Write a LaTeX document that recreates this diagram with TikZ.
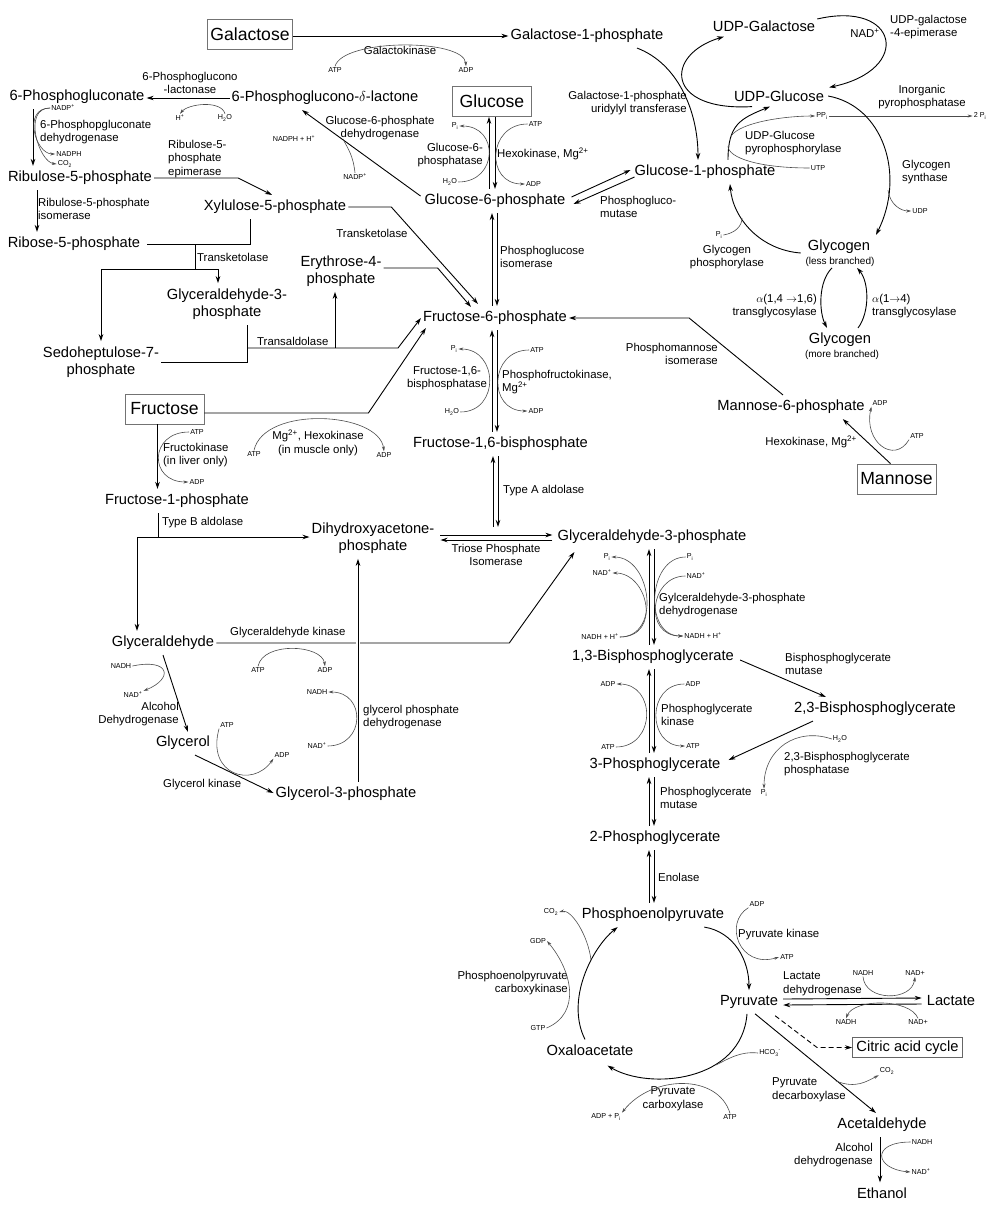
\documentclass[tikz,border=0pt]{standalone}
\usepackage{fontspec}
\setmainfont{Liberation Sans}
\usepackage{tikz}
\usetikzlibrary{arrows.meta, calc}
\newcommand\metsize{\fontsize{14.7}{17.5}\selectfont}
\newcommand\boxsize{\fontsize{17.6}{20}\selectfont}
\newcommand\enzsize{\fontsize{11.4}{13.6}\selectfont}
\newcommand\cofsize{\fontsize{7.2}{8}\selectfont}
\newcommand\subsize{\fontsize{10}{12}\selectfont}
\newcommand\Pinorg{P\textsubscript{i}}
\newcommand\Mgion{Mg\textsuperscript{2+}}
\tikzset{
  metab/.style={font=\metsize, inner xsep=2pt, inner ysep=5pt, align=center},
  source/.style={draw=black!55, line width=0.8pt, font=\boxsize,
    minimum width=79pt, minimum height=30pt, inner sep=3pt},
  cycbox/.style={draw=black!60, line width=0.8pt, font=\metsize,
    inner xsep=4pt, inner ysep=3pt},
  enzyme/.style={font=\enzsize, inner sep=0pt},
  cofactor/.style={font=\cofsize, inner sep=1pt},
  branch/.style={font=\subsize, inner sep=1pt},
  rxn/.style={draw=black, line width=0.9pt, -{Stealth[length=7pt, width=4.5pt]}},
  rxnL/.style={draw=black, line width=0.9pt},
  rxnD/.style={rxn, dash pattern=on 5pt off 3pt},
  side/.style={draw=black!70, line width=0.6pt, -{Stealth[length=5pt, width=3pt]}},
  sideL/.style={draw=black!70, line width=0.6pt},
}
\begin{document}
\begin{tikzpicture}[x=1pt, y=-1pt]
\useasboundingbox (0,0) rectangle (1000,1213);

\node[source] (gal) at (250,34) {Galactose};
\node[source] (glc) at (492,101.5) {Glucose};
\node[source] (fru) at (164.5,409) {Fructose};
\node[source] (man) at (896.5,479) {Mannose};
\node[cycbox] (tca) at (907.5,1047.5) {Citric acid cycle};

\node[metab] (gal1p) at (587,36) {Galactose-1-phosphate};
\node[metab] (pgl) at (325,98) {6-Phosphoglucono-$\delta$-lactone};
\node[metab] (pgn) at (77,97) {6-Phosphogluconate};
\node[metab] (g6p) at (495,201) {Glucose-6-phosphate};
\node[metab] (g1p) at (705,172) {Glucose-1-phosphate};
\node[metab] (udpgal) at (764,26) {UDP-Galactose};
\node[metab] (udpglc) at (779,96) {UDP-Glucose};
\node[metab] (glyA) at (839,247) {Glycogen};
\node[branch] (glyAsub) at (840,262) {(less branched)};
\node[metab] (glyB) at (840,340) {Glycogen};
\node[branch] (glyBsub) at (842,355) {(more branched)};
\node[metab] (ru5p) at (80,178) {Ribulose-5-phosphate};
\node[metab] (r5p) at (74,244) {Ribose-5-phosphate};
\node[metab] (xu5p) at (275,207) {Xylulose-5-phosphate};
\node[metab] (ga3pB) at (227,304) {Glyceraldehyde-3-\\phosphate};
\node[metab] (s7p) at (101,362) {Sedoheptulose-7-\\phosphate};
\node[metab] (e4p) at (341,271) {Erythrose-4-\\phosphate};
\node[metab] (f6p) at (495,318) {Fructose-6-phosphate};
\node[metab] (f16bp) at (500.5,444) {Fructose-1,6-bisphosphate};
\node[metab] (m6p) at (791,407) {Mannose-6-phosphate};
\node[metab] (f1p) at (177,501) {Fructose-1-phosphate};
\node[metab] (dhap) at (373,538) {Dihydroxyacetone-\\phosphate};
\node[metab] (ga3p) at (652,537) {Glyceraldehyde-3-phosphate};
\node[metab] (glyald) at (163,643) {Glyceraldehyde};
\node[metab] (glyc) at (183,743) {Glycerol};
\node[metab] (g3p) at (346,794) {Glycerol-3-phosphate};
\node[metab] (bpg13) at (653,657) {1,3-Bisphosphoglycerate};
\node[metab] (bpg23) at (875,709) {2,3-Bisphosphoglycerate};
\node[metab] (pg3) at (655,765) {3-Phosphoglycerate};
\node[metab] (pg2) at (655,838) {2-Phosphoglycerate};
\node[metab] (pep) at (653,915) {Phosphoenolpyruvate};
\node[metab] (pyr) at (749,1002) {Pyruvate};
\node[metab] (lac) at (951,1001) {Lactate};
\node[metab] (oaa) at (590,1050) {Oxaloacetate};
\node[metab] (acald) at (882,1125) {Acetaldehyde};
\node[metab] (etoh) at (882,1193) {Ethanol};

\node[enzyme] (eGalk) at (400,50) {Galactokinase};
\node[enzyme, anchor=east, align=right] (eGalt) at (687,103) {Galactose-1-phosphate\\uridylyl transferase};
\node[enzyme, anchor=west, align=left] (eEpi) at (890,27) {UDP-galactose\\-4-epimerase};
\node[enzyme] (nadEpi) at (865,33) {NAD\textsuperscript{+}};
\node[enzyme, align=center] (ePPase) at (922,97) {Inorganic\\pyrophosphatase};
\node[enzyme, anchor=west, align=left] (eUgp) at (745,143) {UDP-Glucose\\pyrophosphorylase};
\node[enzyme, anchor=west, align=left] (eGs) at (902,172) {Glycogen\\synthase};
\node[enzyme, align=center] (eGp) at (727,257) {Glycogen\\phosphorylase};
\node[enzyme, anchor=east, align=right] (eTgL) at (817,306) {$\alpha$(1,4 $\rightarrow$1,6)\\transglycosylase};
\node[enzyme, anchor=west, align=left] (eTgR) at (872,306) {$\alpha$(1$\rightarrow$4)\\transglycosylase};
\node[enzyme, align=center] (eLact) at (190,83) {6-Phosphoglucono\\-lactonase};
\node[enzyme, align=center] (eG6pd) at (380,128) {Glucose-6-phosphate\\dehydrogenase};
\node[enzyme, anchor=east, align=right] (eG6pase) at (483,155) {Glucose-6-\\phosphatase};
\node[enzyme, anchor=west] (eHk) at (497,154) {Hexokinase, \Mgion};
\node[enzyme, anchor=west, align=left] (ePgm) at (600,207) {Phosphogluco-\\mutase};
\node[enzyme, anchor=west, align=left] (e6pgd) at (40,132) {6-Phosphopgluconate\\dehydrogenase};
\node[enzyme, anchor=west, align=left] (eRpi) at (38,209) {Ribulose-5-phosphate\\isomerase};
\node[enzyme, anchor=west, align=left] (eRpe) at (168,159) {Ribulose-5-\\phosphate\\epimerase};
\node[enzyme, anchor=west] (eTk1) at (197,257) {Transketolase};
\node[enzyme] (eTk2) at (372,233) {Transketolase};
\node[enzyme, anchor=west] (eTa) at (257,341) {Transaldolase};
\node[enzyme, anchor=west, align=left] (ePgi) at (500,257) {Phosphoglucose\\isomerase};
\node[enzyme, align=center] (eFbp) at (447,378) {Fructose-1,6-\\bisphosphatase};
\node[enzyme, anchor=west, align=left] (ePfk) at (502,382) {Phosphofructokinase,\\\Mgion};
\node[enzyme, anchor=east, align=right] (ePmi) at (718,354) {Phosphomannose\\isomerase};
\node[enzyme, anchor=east] (eHkM) at (857,442) {Hexokinase, \Mgion};
\node[enzyme, align=center] (eHkF) at (318,443) {\Mgion, Hexokinase\\(in muscle only)};
\node[enzyme, anchor=west, align=left] (eFk) at (163,455) {Fructokinase\\(in liver only)};
\node[enzyme, anchor=west] (eAldA) at (503,491) {Type A aldolase};
\node[enzyme, anchor=west] (eAldB) at (162,523) {Type B aldolase};
\node[enzyme, align=center] (eTpi) at (496,555) {Triose Phosphate\\Isomerase};
\node[enzyme, anchor=west] (eGlyk) at (230,633) {Glyceraldehyde kinase};
\node[enzyme, anchor=east, align=right] (eAdhG) at (179,714) {Alcohol\\Dehydrogenase};
\node[enzyme, anchor=west] (eGk) at (163,785) {Glycerol kinase};
\node[enzyme, anchor=west, align=left] (eGpdh) at (363,717) {glycerol phosphate\\dehydrogenase};
\node[enzyme, anchor=west, align=left] (eGapdh) at (659,605) {Gylceraldehyde-3-phosphate\\dehydrogenase};
\node[enzyme, anchor=west, align=left] (ePgk) at (661,715) {Phosphoglycerate\\kinase};
\node[enzyme, anchor=west, align=left] (eBpgm) at (785,664) {Bisphosphoglycerate\\mutase};
\node[enzyme, anchor=west, align=left] (eBpgp) at (784,764) {2,3-Bisphosphoglycerate\\phosphatase};
\node[enzyme, anchor=west, align=left] (ePgam) at (660,798) {Phosphoglycerate\\mutase};
\node[enzyme, anchor=west] (eEno) at (658,877) {Enolase};
\node[enzyme, anchor=west] (ePk) at (738,935) {Pyruvate kinase};
\node[enzyme, anchor=west, align=left] (eLdh) at (783,984) {Lactate\\dehydrogenase};
\node[enzyme, anchor=west, align=left] (ePdc) at (772,1090) {Pyruvate\\decarboxylase};
\node[enzyme, anchor=east, align=right] (eAdh) at (873,1155) {Alcohol\\dehydrogenase};
\node[enzyme, align=center] (ePc) at (673,1099) {Pyruvate\\carboxylase};
\node[enzyme, anchor=east, align=right] (ePepck) at (568,983) {Phosphoenolpyruvate\\carboxykinase};

\node[cofactor] (atpA) at (335,70) {ATP};
\node[cofactor] (adpA) at (466,70) {ADP};
\node[cofactor] (hpA) at (180,118) {H\textsuperscript{+}};
\node[cofactor] (h2oA) at (225,118) {H\textsubscript{2}O};
\node[cofactor] (nadphA) at (294,139) {NADPH + H\textsuperscript{+}};
\node[cofactor] (nadpA) at (355,177) {NADP\textsuperscript{+}};
\node[cofactor] (piA) at (455,126) {\Pinorg};
\node[cofactor] (h2oB) at (450,182) {H\textsubscript{2}O};
\node[cofactor] (atpB) at (535.5,124) {ATP};
\node[cofactor] (adpB) at (533.5,184) {ADP};
\node[cofactor] (nadpB) at (63,108) {NADP\textsuperscript{+}};
\node[cofactor] (nadphB) at (69,154) {NADPH};
\node[cofactor] (co2A) at (65,164) {CO\textsubscript{2}};
\node[cofactor] (piB) at (719,235) {\Pinorg};
\node[cofactor] (utp) at (818,168) {UTP};
\node[cofactor] (udp) at (920,211) {UDP};
\node[cofactor] (ppi) at (822,116) {PP\textsubscript{i}};
\node[cofactor] (pi2) at (980,116) {2 \Pinorg};
\node[cofactor] (piC) at (454,349) {\Pinorg};
\node[cofactor] (h2oC) at (452,412) {H\textsubscript{2}O};
\node[cofactor] (atpE) at (537,350) {ATP};
\node[cofactor] (adpE) at (536,411) {ADP};
\node[cofactor] (adpF) at (880,403) {ADP};
\node[cofactor] (atpF) at (917,436) {ATP};
\node[cofactor] (atpC) at (254,454) {ATP};
\node[cofactor] (adpC) at (384,455) {ADP};
\node[cofactor] (atpD) at (197,432) {ATP};
\node[cofactor] (adpD) at (197,482) {ADP};
\node[cofactor] (atpG) at (258,670) {ATP};
\node[cofactor] (adpG) at (325,670) {ADP};
\node[cofactor] (nadhA) at (121,666) {NADH};
\node[cofactor] (nadA) at (133,695) {NAD\textsuperscript{+}};
\node[cofactor] (atpH) at (227,725) {ATP};
\node[cofactor] (adpH) at (282,755) {ADP};
\node[cofactor] (nadhB) at (317,692) {NADH};
\node[cofactor] (nadB) at (317,746) {NAD\textsuperscript{+}};
\node[cofactor] (pi1L) at (607,557) {\Pinorg};
\node[cofactor] (nad1L) at (602,573) {NAD\textsuperscript{+}};
\node[cofactor] (nadh1L) at (600,637) {NADH + H\textsuperscript{+}};
\node[cofactor] (pi1R) at (690,557) {\Pinorg};
\node[cofactor] (nad1R) at (696,576) {NAD\textsuperscript{+}};
\node[cofactor] (nadh1R) at (703,636) {NADH + H\textsuperscript{+}};
\node[cofactor] (adp2L) at (608,684) {ADP};
\node[cofactor] (atp2L) at (608,747) {ATP};
\node[cofactor] (adp2R) at (693,684) {ADP};
\node[cofactor] (atp2R) at (693,746) {ATP};
\node[cofactor] (h2oD) at (840,739) {H\textsubscript{2}O};
\node[cofactor] (piD) at (764,793) {\Pinorg};
\node[cofactor] (adpP) at (757,904) {ADP};
\node[cofactor] (atpP) at (787,957) {ATP};
\node[cofactor] (nadhT) at (863,973) {NADH};
\node[cofactor] (nadT) at (915,973) {NAD+};
\node[cofactor] (nadhBt) at (846,1022) {NADH};
\node[cofactor] (nadBt) at (918,1022) {NAD+};
\node[cofactor] (hco3) at (770,1053) {HCO\textsubscript{3}\textsuperscript{-}};
\node[cofactor] (co2B) at (887,1071) {CO\textsubscript{2}};
\node[cofactor] (nadhE) at (922,1142) {NADH};
\node[cofactor] (nadE) at (921,1172) {NAD\textsuperscript{+}};
\node[cofactor] (atpPC) at (730,1117) {ATP};
\node[cofactor] (adpPC) at (606,1117) {ADP + \Pinorg};
\node[cofactor] (co2C) at (551,912) {CO\textsubscript{2}};
\node[cofactor] (gdp) at (538,941) {GDP};
\node[cofactor] (gtp) at (538,1028) {GTP};

\coordinate (g6pdA) at (343,139);
\coordinate (ugpA) at (731,136);
\coordinate (ugpB) at (728,146);
\coordinate (gsA) at (888,190);
\coordinate (gpA) at (742,218);
\coordinate (tkA) at (195,245);
\coordinate (tkB) at (195,269);
\coordinate (taA) at (247,348);
\coordinate (taB) at (335,348);
\coordinate (tbA) at (158,537);
\coordinate (tpaA) at (496,527);
\coordinate (pdcA) at (836,1081);
\coordinate (pcA) at (716,1065);
\coordinate (pckA) at (591,960);

\draw[rxn] (gal.east |- gal1p.west) -- (gal1p.west);
\draw[side] (atpA.north) .. controls +(8,-28) and +(-2,-28) .. (adpA.north);
\draw[rxn] (pgl.west) -- (pgn.east |- pgl.west);
\draw[side] (h2oA.north) .. controls +(-4,-14) and +(8,-10) .. (hpA.north);
\draw[rxn] ($(g6p.west)+(-2,-5)$) -- ($(pgl.south)+(-23,0)$);
\draw[sideL] (nadpA.north) .. controls +(-2,-18) and +(5,10) .. (g6pdA);
\draw[rxn] ([xshift=-44]pgn.south) -- ([xshift=-44]pgn.south |- ru5p.north);
\draw[side] (nadpB.west) .. controls +(-28,0) and +(-20,0) .. (nadphB.west);
\draw[side] (nadpB.west) .. controls +(-28,0) and +(-18,-2) .. (co2A.west);
\draw[rxn] ([xshift=-43]ru5p.south) -- ([xshift=-43]ru5p.south |- r5p.north);
\draw[rxn] (ru5p.east) -- ++(84,0) -- ([xshift=-3]xu5p.north);
\draw[rxnL] ([xshift=5]r5p.east) -- ([xshift=-25]xu5p.south |- r5p.east) -- ([xshift=-25]xu5p.south);
\draw[rxnL] (tkA) -- (tkB);
\draw[rxn] (tkB) -| (s7p.north);
\draw[rxn] (tkB) -| ([xshift=-9]ga3pB.north);
\draw[rxnL] (s7p.east) -| ([xshift=20]ga3pB.south);
\draw[rxn] (taA) -- ++(151,0) -- (f6p.west);
\draw[rxn] (taB) -- ([xshift=-6]e4p.south);
\draw[rxn] (xu5p.east) -- ++(43,0) -- ($(f6p.north)+(-17,-2)$);
\draw[rxn] ($(e4p.east)+(0,-3)$) -- ++(54,0) -- ($(f6p.north)+(-24,1)$);

\draw[rxn] ([xshift=-3]glc.south |- g6p.north) -- ([xshift=-3]glc.south);
\draw[rxn] ([xshift=3]glc.south) -- ([xshift=3]glc.south |- g6p.north);
\draw[side] (h2oB.east) .. controls +(40,0) and +(40,0) .. (piA.east);
\draw[side] (atpB.west) .. controls +(-40,0) and +(-40,0) .. (adpB.west);
\draw[rxn] ($(g6p.east)+(4,-4)$) -- ($(g1p.west)+(-2,-2)$);
\draw[rxn] ($(g1p.west)+(2,5)$) -- ($(g6p.east)+(6,3)$);
\draw[rxn] ([xshift=50]gal1p.south) .. controls +(40,15) and +(0,-50) .. ([xshift=-7]g1p.north);
\draw[rxn] ([xshift=-27]udpglc.south) .. controls +(-87,5) and +(-60,18) .. ([xshift=-40]udpgal.south);
\draw[rxn] ($(udpgal.east)+(0,-7)$) .. controls +(81,-19) and +(84,-18) .. ($(udpglc.north east)+(3,2)$);
\draw[rxn] ([xshift=23]g1p.north) .. controls +(0,-35) and +(-30,12) .. ([xshift=-9]udpglc.south);
\draw[side] (ugpA) .. controls +(10,-14) and +(-30,0) .. (ppi.west);
\draw[sideL] (utp.west) .. controls +(-50,0) and +(0,12) .. (ugpB);
\draw[side] (ppi.east) -- (pi2.west);
\draw[rxn] ($(udpglc.east)+(2,0)$) .. controls +(55,10) and +(30,-60) .. ([xshift=37]glyA.north);
\draw[side] (gsA) .. controls +(2,15) and +(-10,0) .. (udp.west);
\draw[rxn] ($(glyA.west)+(-5,6)$) .. controls +(-40,-3) and +(3,35) .. ([xshift=25]g1p.south);
\draw[sideL] (piB.east) .. controls +(12,-2) and +(0,8) .. (gpA);
\draw[rxn] ([xshift=-8]glyAsub.south) .. controls +(-14,14) and +(-8,-16) .. ([xshift=-13]glyB.north);
\draw[rxn] ([xshift=18]glyB.north) .. controls +(12,-16) and +(12,14) .. ([xshift=17]glyAsub.south);

\draw[rxn] ([xshift=-6]man.north) -- ($(m6p.south east)+(-24,0)$);
\draw[side] (atpF.south west) .. controls +(-15,25) and +(-8,35) .. (adpF.south west);
\draw[rxn] ([xshift=-8]m6p.north) -- ($(f6p.east)+(120,0)$) -- (f6p.east);
\draw[rxn] ($(fru.east)+(0,4)$) -- ++(164,0) -- ($(f6p.south west)+(5,-2)$);
\draw[side] (atpC.north) .. controls +(10,-45) and +(-5,-40) .. (adpC.north);
\draw[rxn] ([xshift=-7]fru.south) -- ([xshift=-7]fru.south |- f1p.north);
\draw[side] (atpD.west) .. controls +(-40,0) and +(-40,0) .. (adpD.west);
\draw[rxnL] ([xshift=-19]f1p.south) -- (tbA);
\draw[rxn] (tbA) -- (tbA -| dhap.west);
\draw[rxn] (tbA) -| ([xshift=-26]glyald.north);

\draw[rxn] ([xshift=-3]f6p.south |- f16bp.north) -- ([xshift=-3]f6p.south);
\draw[rxn] ([xshift=2]f6p.south) -- ([xshift=2]f6p.south |- f16bp.north);
\draw[side] (h2oC.east) .. controls +(40,0) and +(40,0) .. (piC.east);
\draw[side] (atpE.west) .. controls +(-40,0) and +(-40,0) .. (adpE.west);
\draw[rxn] ([xshift=-3]f6p.north) -- ([xshift=-3]f6p.north |- g6p.south);
\draw[rxn] ([xshift=2]g6p.south) -- ([xshift=2]g6p.south |- f6p.north);
\draw[rxn] ([xshift=-3]tpaA) -- ([xshift=-3]tpaA |- f16bp.south);
\draw[rxn] ([xshift=2]tpaA |- f16bp.south) -- ([xshift=2]tpaA);
\draw[rxn] ($(dhap.east)+(4,-3)$) -- ($(dhap.east -| ga3p.west)+(-3,-3)$);
\draw[rxn] ($(dhap.east -| ga3p.west)+(-3,2)$) -- ($(dhap.east)+(4,2)$);

\draw[rxn] (glyald.east) -- ++(293,0) -- ($(ga3p.south west)+(19,3)$);
\draw[side] (atpG.north) .. controls +(5,-25) and +(-3,-22) .. (adpG.north);
\draw[rxn] (glyald.south) -- ($(glyc.north)+(5,1)$);
\draw[side] (nadhA.east) .. controls +(38,-8) and +(30,-12) .. (nadA.north east);
\draw[rxn] ($(glyc.south)+(12,0)$) -- ($(g3p.west)+(0,-1)$);
\draw[side] (atpH.south west) .. controls +(-13,46) and +(-21,30) .. (adpH.south west);
\draw[rxn, preaction={draw=white, line width=4pt, -}] ([xshift=12]g3p.north) -- ([xshift=12]g3p.north |- dhap.south);
\draw[side] (nadB.east) .. controls +(38,0) and +(38,0) .. (nadhB.east);

\draw[rxn] ([xshift=-4]bpg13.north) -- ([xshift=-4]bpg13.north |- ga3p.south);
\draw[rxn] ([xshift=1]bpg13.north |- ga3p.south) -- ([xshift=1]bpg13.north);
\draw[side] (nadh1L.east) .. controls +(42,0) and +(36,0) .. (nad1L.east);
\draw[side] (nadh1L.east) .. controls +(42,0) and +(40,0) .. (pi1L.east);
\draw[side] (pi1R.west) .. controls +(-38,0) and +(-40,0) .. (nadh1R.west);
\draw[side] (nad1R.west) .. controls +(-36,0) and +(-40,0) .. (nadh1R.west);
\draw[rxn] ([xshift=-4]bpg13.center |- pg3.north) -- ([xshift=-4]bpg13.south);
\draw[rxn] ([xshift=1]bpg13.south) -- ([xshift=1]bpg13.center |- pg3.north);
\draw[side] (atp2L.east) .. controls +(40,0) and +(40,0) .. (adp2L.east);
\draw[side] (adp2R.west) .. controls +(-38,0) and +(-38,0) .. (atp2R.west);
\draw[rxn] ($(bpg13.east)+(4,3)$) -- ($(bpg23.north west)+(34,0)$);
\draw[rxn] ($(bpg23.south)+(-62,0)$) -- ($(pg3.east)+(6,-5)$);
\draw[side] (h2oD.west) .. controls +(-35,-12) and +(0,-40) .. (piD.north);
\draw[rxn] ([xshift=-4]bpg13.center |- pg2.north) -- ([xshift=-4]bpg13.center |- pg3.south);
\draw[rxn] ([xshift=1]bpg13.center |- pg3.south) -- ([xshift=1]bpg13.center |- pg2.north);
\draw[rxn] ([xshift=-4]bpg13.center |- pep.north) -- ([xshift=-4]bpg13.center |- pg2.south);
\draw[rxn] ([xshift=1]bpg13.center |- pg2.south) -- ([xshift=1]bpg13.center |- pep.north);

\draw[rxn] ($(pep.south east)+(-22,0)$) .. controls +(30,5) and +(0,-30) .. (pyr.north);
\draw[side] (adpP.south west) .. controls +(-25,15) and +(-40,12) .. (atpP.west);
\draw[rxn] ($(pyr.east)+(3,-3)$) -- ($(lac.west)+(-3,-3)$);
\draw[rxn] ($(lac.west)+(-3,3)$) -- ($(pyr.east)+(3,3)$);
\draw[side] (nadhT.south) .. controls +(2,25) and +(-3,25) .. (nadT.south);
\draw[side] (nadBt.north) .. controls +(-8,-20) and +(8,-20) .. (nadhBt.north);
\draw[rxnD] ($(pyr.south east)+(-5,2)$) -- ($(tca.west)+(-35,0)$) -- (tca.west);
\draw[rxn] ($(pyr.south)+(6,0)$) -- ($(acald.north)+(-6,0)$);
\draw[side] (pdcA) .. controls +(20,8) and +(-12,6) .. (co2B.south west);
\draw[rxn] ([xshift=-2]acald.south) -- ([xshift=-2]acald.south |- etoh.north);
\draw[side] (nadhE.west) .. controls +(-40,0) and +(-36,-3) .. (nadE.west);

\draw[rxn] ($(pyr.south)+(-2,0)$) .. controls +(-5,68) and +(42,25) .. ($(oaa.south east)+(-28,5)$);
\draw[sideL] (hco3.west) .. controls +(-18,-2) and +(12,-6) .. (pcA);
\draw[side] (atpPC.north) .. controls +(-12,-40) and +(30,-38) .. (adpPC.north east);
\draw[rxn] ($(oaa.north)+(-5,0)$) .. controls +(-20,-40) and +(-25,20) .. ($(pep.south west)+(38,0)$);
\draw[side] (pckA) .. controls +(-3,-25) and +(12,-3) .. (co2C.east);
\draw[side] (gtp.east) .. controls +(35,-15) and +(25,30) .. (gdp.east);

\end{tikzpicture}
\end{document}
